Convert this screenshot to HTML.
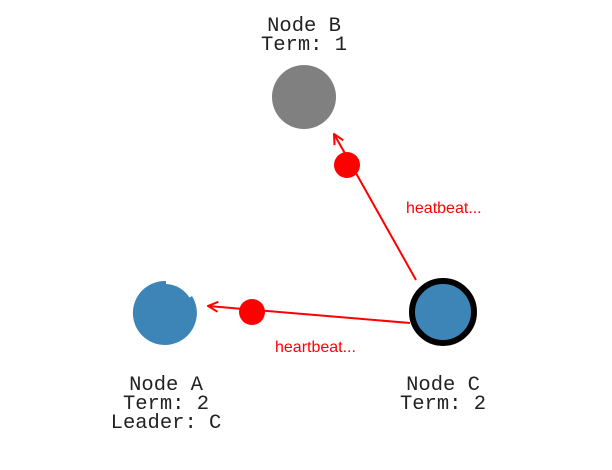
<!DOCTYPE html>
<html><head><meta charset="utf-8"><style>
html,body{margin:0;padding:0;background:#fff;}
svg{display:block}
.m{font-family:"Liberation Mono",monospace;font-size:20.5px;fill:#222;}
.r{font-family:"Liberation Sans",sans-serif;font-size:16px;fill:#f00;}
</style></head><body>
<svg width="612" height="470" viewBox="0 0 612 470" xmlns="http://www.w3.org/2000/svg">
<defs>
<marker id="ar" viewBox="0 0 12 12" refX="11" refY="6" markerWidth="12" markerHeight="12" markerUnits="userSpaceOnUse" orient="auto">
<path d="M1,1 L11,6 L1,11" fill="none" stroke="#f00" stroke-width="2"/>
</marker>
</defs>
<text class="m" x="304" y="31" text-anchor="middle">Node B</text>
<text class="m" x="304" y="50" text-anchor="middle">Term: 1</text>
<circle cx="304" cy="97" r="32" fill="#808080"/>

<line x1="416" y1="280" x2="334" y2="134" stroke="#f00" stroke-width="2" marker-end="url(#ar)"/>
<circle cx="347" cy="165" r="13" fill="#f00"/>
<text class="r" x="406" y="213">heatbeat...</text>

<line x1="410" y1="323" x2="208" y2="306" stroke="#f00" stroke-width="2" marker-end="url(#ar)"/>
<circle cx="252" cy="312" r="13" fill="#f00"/>
<text class="r" x="275" y="352">heartbeat...</text>

<path d="M165,281 A32,32 0 1 0 192,296 L189.5,297.5 A29,29 0 0 0 166,284 L166,281 Z" fill="#3d85b6"/>

<circle cx="443" cy="312" r="31" fill="#3d85b6" stroke="#000" stroke-width="6"/>

<text class="m" x="166" y="390" text-anchor="middle">Node A</text>
<text class="m" x="166" y="409" text-anchor="middle">Term: 2</text>
<text class="m" x="166" y="428" text-anchor="middle">Leader: C</text>
<text class="m" x="443" y="390" text-anchor="middle">Node C</text>
<text class="m" x="443" y="409" text-anchor="middle">Term: 2</text>
</svg>
</body></html>
